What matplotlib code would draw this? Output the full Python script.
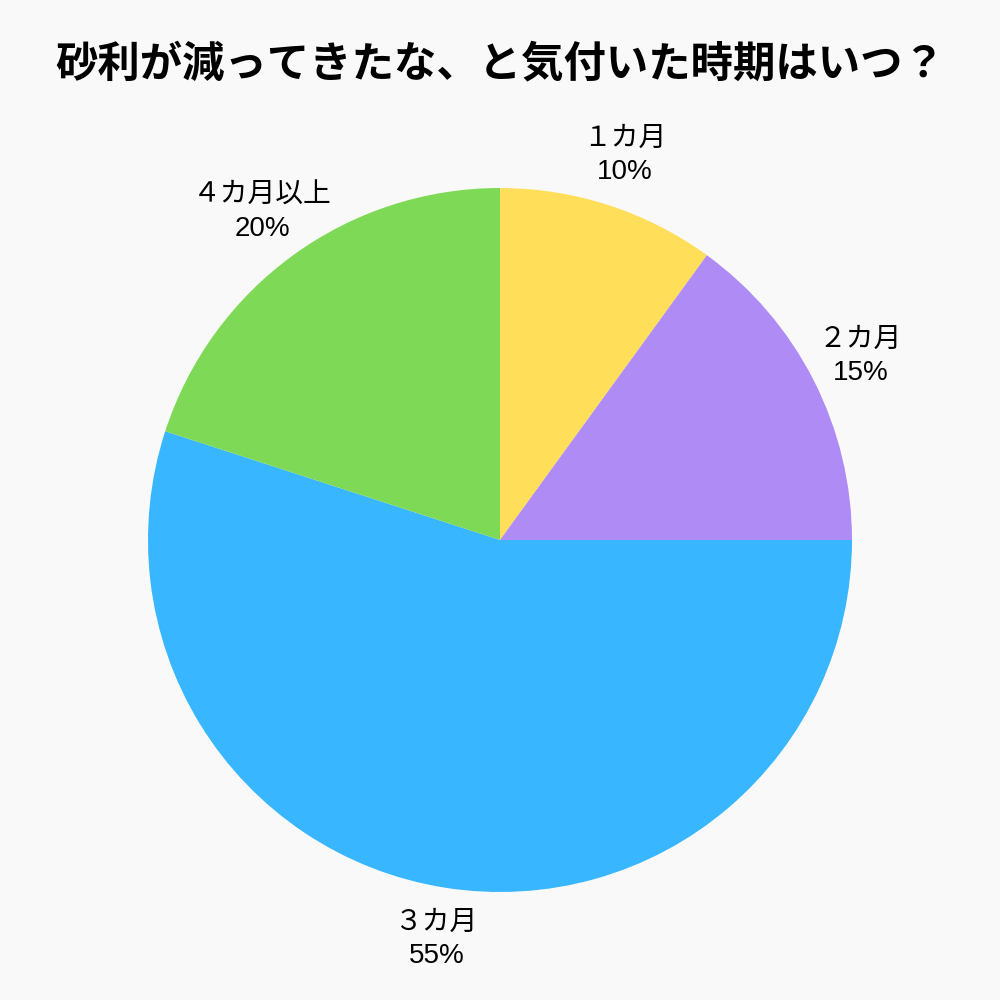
import matplotlib.pyplot as plt

plt.rcParams['font.family'] = ['Noto Sans CJK JP', 'DejaVu Sans']

TITLE = "砂利が減ってきたな、と気付いた時期はいつ？"
labels = ["１カ月", "２カ月", "３カ月", "４カ月以上"]
shares = [10, 15, 55, 20]
colors = ["#FFDE59", "#AF8CF5", "#38B6FF", "#7ED957"]

fig = plt.figure(figsize=(10, 10), dpi=100)
fig.patch.set_facecolor("#f9f9f9")

ax = fig.add_axes([0.148, 0.108, 0.704, 0.704])
wedges, texts = ax.pie(
    shares,
    labels=[f"{l}\n{v}%" for l, v in zip(labels, shares)],
    colors=colors,
    startangle=90,
    counterclock=False,
    labeldistance=1.15,
    radius=1.0,
    textprops={"fontsize": 20, "ha": "center", "va": "center", "linespacing": 1.35,
               "family": ["Liberation Sans", "Noto Sans CJK JP"]},
    wedgeprops={"linewidth": 0},
)
ax.set_xlim(-1, 1)
ax.set_ylim(-1, 1)
ax.set_aspect("equal")
ax.axis("off")

fig.text(0.5, 0.936, TITLE, ha="center", va="center", fontsize=30.5, fontweight="bold")

fig.savefig("out.png", facecolor=fig.get_facecolor())
